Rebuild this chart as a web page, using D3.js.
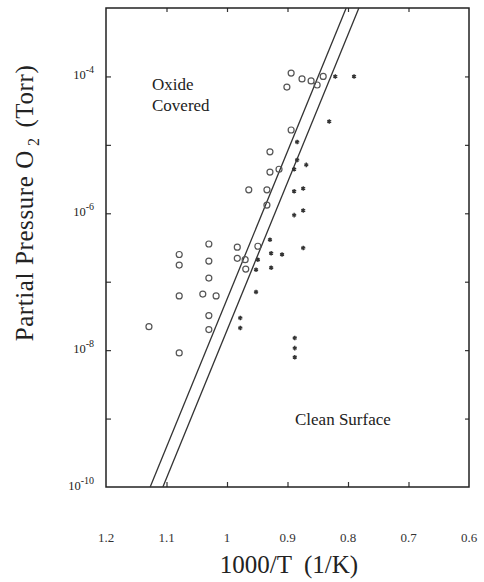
<!DOCTYPE html>
<meta charset='utf-8'>
<style type="text/css">
  body { margin: 0; background: #fff; }
  svg text { font-family: "Liberation Serif", "Times New Roman", serif; fill: #222; }
</style>
<body>
<div class="chart"></div>
<script src='https://cdn.jsdelivr.net/npm/d3@7/dist/d3.min.js'></script>
<script>

// oxide covered points (open circles): 1000/T, P(O2) in Torr
var oxideX = [0.894, 0.901, 0.876, 0.861, 0.851, 0.841, 0.894, 0.929, 0.929, 0.914,
              0.964, 0.934, 0.934, 1.030, 1.079, 1.079, 1.030, 0.983, 0.983, 0.970,
              0.949, 0.969, 1.030, 1.079, 1.040, 1.018, 1.030, 1.030, 1.129, 1.079];
var oxideP = [1.12e-4, 7.0e-5, 9.2e-5, 8.6e-5, 7.5e-5, 1.0e-4, 1.65e-5, 7.9e-6, 4.0e-6, 4.4e-6,
              2.2e-6, 2.2e-6, 1.32e-6, 3.56e-7, 2.5e-7, 1.75e-7, 2.0e-7, 3.2e-7, 2.2e-7, 2.1e-7,
              3.3e-7, 1.53e-7, 1.13e-7, 6.2e-8, 6.6e-8, 6.2e-8, 3.2e-8, 2.0e-8, 2.2e-8, 9.1e-9];

// clean surface points (asterisks)
var cleanX = [0.821, 0.790, 0.831, 0.884, 0.884, 0.869, 0.889, 0.889, 0.874, 0.874,
              0.889, 0.874, 0.929, 0.927, 0.909, 0.949, 0.952, 0.927, 0.952, 0.978,
              0.978, 0.888, 0.888, 0.888];
var cleanP = [1.0e-4, 1.0e-4, 2.2e-5, 1.1e-5, 6.0e-6, 5.1e-6, 4.4e-6, 2.1e-6, 2.3e-6, 1.1e-6,
              9.4e-7, 3.1e-7, 4.1e-7, 2.6e-7, 2.5e-7, 2.1e-7, 1.5e-7, 1.6e-7, 7.1e-8, 2.95e-8,
              2.1e-8, 1.5e-8, 1.07e-8, 7.9e-9];

// boundary lines (two parallel lines)
var lineA = [[1.127, 1e-10], [0.803, 1e-3]];
var lineB = [[1.106, 1e-10], [0.782, 1e-3]];

var xTicks = [1.2, 1.1, 1.0, 0.9, 0.8, 0.7, 0.6];
var xTickLabels = ['1.2', '1.1', '1', '0.9', '0.8', '0.7', '0.6'];
var yLabelExps = [-4, -6, -8, -10];
var yTickVals = [1e-10, 1e-9, 1e-8, 1e-7, 1e-6, 1e-5, 1e-4, 1e-3];

var width = 484, height = 582;
var pLeft = 106, pRight = 469, pTop = 8, pBottom = 487;
var serif = '"Liberation Serif", "Times New Roman", serif';

var svg = d3.select('.chart')
  .append('svg')
  .attr('width', width)
  .attr('height', height)
  .attr('font-family', serif);

var x = d3.scaleLinear().domain([1.2, 0.6]).range([pLeft, pRight]);
var y = d3.scaleLog().domain([1e-10, 1e-3]).range([pBottom, pTop]);

function noDomain(g){ g.select('.domain').remove(); }

// inward ticks on all four sides
svg.append('g')
  .attr('transform', 'translate(0,' + pBottom + ')')
  .call(d3.axisBottom(x).tickValues(xTicks.slice(1, -1)).tickSize(-5).tickFormat(''))
  .call(noDomain);
svg.append('g')
  .attr('transform', 'translate(0,' + pTop + ')')
  .call(d3.axisTop(x).tickValues(xTicks.slice(1, -1)).tickSize(-4).tickFormat(''))
  .call(noDomain);
svg.append('g')
  .attr('transform', 'translate(' + pLeft + ',0)')
  .call(d3.axisLeft(y).tickValues(yTickVals.slice(1, -1)).tickSize(-5).tickFormat(''))
  .call(noDomain);
svg.append('g')
  .attr('transform', 'translate(' + pRight + ',0)')
  .call(d3.axisRight(y).tickValues(yTickVals.slice(1, -1)).tickSize(-4).tickFormat(''))
  .call(noDomain);

svg.selectAll('.tick line').attr('stroke', '#333').attr('stroke-width', 1.2);

// frame
svg.append('rect')
  .attr('x', pLeft).attr('y', pTop)
  .attr('width', pRight - pLeft).attr('height', pBottom - pTop)
  .attr('fill', 'none')
  .attr('stroke', '#222')
  .attr('stroke-width', 1.5);

// x tick labels
svg.selectAll('.xlab')
  .data(xTicks)
  .enter().append('text')
  .attr('class', 'xlab')
  .attr('x', function(d){ return x(d); })
  .attr('y', 542)
  .attr('text-anchor', 'middle')
  .attr('font-size', 13)
  .style('fill', '#333')
  .text(function(d, i){ return xTickLabels[i]; });

// y tick labels 10^n
var ylab = svg.selectAll('.ylab')
  .data(yLabelExps)
  .enter().append('text')
  .attr('class', 'ylab')
  .attr('x', 94)
  .attr('y', function(d){ return y(Math.pow(10, d)) + 3; })
  .attr('text-anchor', 'end')
  .attr('font-size', 12.5);
ylab.append('tspan').text('10');
ylab.append('tspan')
  .attr('dy', -6)
  .attr('font-size', 10)
  .text(function(d){ return d; });

// boundary lines
var line = d3.line()
  .x(function(d){ return x(d[0]); })
  .y(function(d){ return y(d[1]); });

svg.selectAll('.bound')
  .data([lineA, lineB])
  .enter().append('path')
  .attr('class', 'bound')
  .attr('d', line)
  .attr('fill', 'none')
  .attr('stroke', '#333')
  .attr('stroke-width', 1.3);

// open circles
svg.selectAll('.oxide')
  .data(oxideX)
  .enter().append('circle')
  .attr('class', 'oxide')
  .attr('cx', function(d){ return x(d); })
  .attr('cy', function(d, i){ return y(oxideP[i]); })
  .attr('r', 3)
  .attr('fill', 'none')
  .attr('stroke', '#555')
  .attr('stroke-width', 1.2);

// asterisks
var star = d3.symbol().type(d3.symbolAsterisk).size(14);
svg.selectAll('.clean')
  .data(cleanX)
  .enter().append('path')
  .attr('class', 'clean')
  .attr('d', star)
  .attr('transform', function(d, i){ return 'translate(' + x(d) + ',' + y(cleanP[i]) + ')'; })
  .attr('fill', 'none')
  .attr('stroke', '#333')
  .attr('stroke-width', 1.4);

// region labels
svg.append('text').attr('x', 152).attr('y', 90).attr('font-size', 17).text('Oxide');
svg.append('text').attr('x', 152).attr('y', 111).attr('font-size', 17).text('Covered');
svg.append('text').attr('x', 295).attr('y', 425).attr('font-size', 17).text('Clean Surface');

// axis titles
svg.append('text')
  .attr('x', 289).attr('y', 573)
  .attr('text-anchor', 'middle')
  .attr('font-size', 25)
  .attr('xml:space', 'preserve')
  .text('1000/T  (1/K)');

var yt = svg.append('text')
  .attr('transform', 'translate(33,203) rotate(-90)')
  .attr('text-anchor', 'middle')
  .attr('font-size', 25)
  .attr('letter-spacing', 0.6);
yt.append('tspan').text('Partial Pressure O');
yt.append('tspan').attr('font-size', 16).attr('dy', 6).attr('dx', 4).text('2');
yt.append('tspan').attr('dy', -6).attr('dx', 3).text(' (Torr)');

</script>
</body>
</html>
